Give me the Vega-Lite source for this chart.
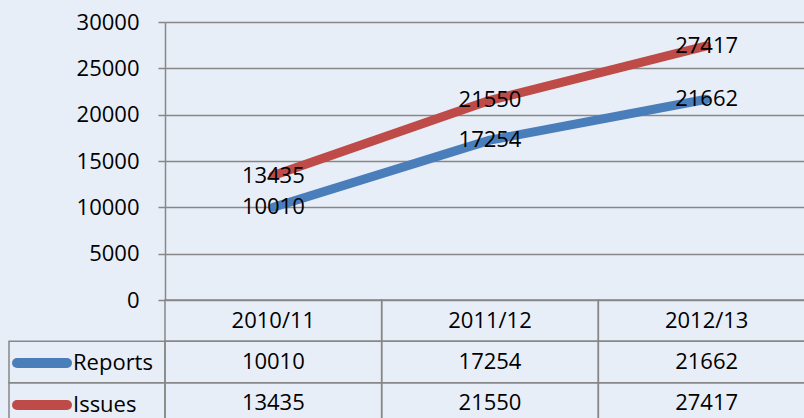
{
  "$schema": "https://vega.github.io/schema/vega-lite/v6.json",
  "background": "#e8eef7",
  "padding": {"left": 8, "top": 11, "right": 0, "bottom": 0},
  "config": {
    "view": {"stroke": null},
    "font": "Open Sans",
    "text": {"font": "Open Sans"}
  },
  "data": {
    "values": [
      {"period": "2010/11", "series": "Reports", "value": 10010},
      {"period": "2011/12", "series": "Reports", "value": 17254},
      {"period": "2012/13", "series": "Reports", "value": 21662},
      {"period": "2010/11", "series": "Issues", "value": 13435},
      {"period": "2011/12", "series": "Issues", "value": 21550},
      {"period": "2012/13", "series": "Issues", "value": 27417}
    ]
  },
  "columns": 2,
  "spacing": 0,
  "bounds": "flush",
  "concat": [
    {
      "width": 156,
      "height": 278,
      "data": {"values": []},
      "mark": "point"
    },
    {
      "width": 650,
      "height": 278,
      "layer": [
        {
          "mark": {"type": "line", "strokeWidth": 9, "strokeCap": "round", "strokeJoin": "round"},
          "encoding": {
            "x": {"field": "period", "type": "nominal", "axis": null, "scale": {"padding": 0.5}},
            "y": {
              "field": "value",
              "type": "quantitative",
              "scale": {"domain": [0, 30000], "nice": false},
              "axis": {
                "values": [0, 5000, 10000, 15000, 20000, 25000, 30000],
                "format": "d",
                "title": null,
                "grid": true,
                "gridColor": "#878787",
                "gridWidth": 1.5,
                "domainColor": "#878787",
                "domainWidth": 1.5,
                "tickColor": "#878787",
                "tickWidth": 1.5,
                "tickSize": 7,
                "labelPadding": 19,
                "labelFontSize": 22,
                "labelFont": "Open Sans",
                "labelColor": "#000000"
              }
            },
            "color": {
              "field": "series",
              "type": "nominal",
              "scale": {"domain": ["Reports", "Issues"], "range": ["#4a7ebb", "#be4b48"]},
              "legend": {
                "orient": "none",
                "legendX": 3,
                "legendY": 320.3,
                "title": null,
                "symbolType": "stroke",
                "symbolSize": 2500,
                "symbolStrokeWidth": 10,
                "clipHeight": 41.33,
                "rowPadding": 0,
                "padding": 0,
                "labelFontSize": 22,
                "labelFont": "Open Sans",
                "labelColor": "#000000",
                "labelOffset": 1,
                "encode": {"symbols": {"update": {"strokeCap": {"value": "round"}}}}
              }
            }
          }
        },
        {
          "mark": {"type": "text", "fontSize": 22, "color": "#000000", "font": "Open Sans"},
          "encoding": {
            "x": {"field": "period", "type": "nominal"},
            "y": {"field": "value", "type": "quantitative"},
            "text": {"field": "value", "type": "quantitative", "format": "d"}
          }
        }
      ]
    },
    {
      "width": 156,
      "height": 124,
      "transform": [{"filter": "datum.period == '2010/11'"}],
      "mark": {"type": "rect", "fill": "transparent", "stroke": "#878787", "strokeWidth": 1.5},
      "encoding": {
        "y": {
          "field": "series",
          "type": "nominal",
          "axis": null,
          "scale": {"domain": ["header", "Reports", "Issues"], "paddingInner": 0, "paddingOuter": 0}
        }
      }
    },
    {
      "width": 650,
      "height": 124,
      "layer": [
        {
          "mark": {"type": "rect", "fill": "transparent", "stroke": "#878787", "strokeWidth": 1.5},
          "encoding": {
            "x": {"field": "period", "type": "nominal", "axis": null, "scale": {"paddingInner": 0, "paddingOuter": 0}},
            "y": {
              "field": "series",
              "type": "nominal",
              "axis": null,
              "scale": {"domain": ["header", "Reports", "Issues"], "paddingInner": 0, "paddingOuter": 0}
            }
          }
        },
        {
          "transform": [{"filter": "datum.series == 'Reports'"}],
          "mark": {"type": "rect", "fill": "transparent", "stroke": "#878787", "strokeWidth": 1.5},
          "encoding": {
            "x": {"field": "period", "type": "nominal"},
            "y": {"datum": "header", "type": "nominal"}
          }
        },
        {
          "mark": {"type": "text", "fontSize": 22, "color": "#000000", "font": "Open Sans"},
          "encoding": {
            "x": {"field": "period", "type": "nominal"},
            "y": {"field": "series", "type": "nominal"},
            "text": {"field": "value", "type": "quantitative", "format": "d"}
          }
        },
        {
          "transform": [{"filter": "datum.series == 'Reports'"}],
          "mark": {"type": "text", "fontSize": 22, "color": "#000000", "font": "Open Sans"},
          "encoding": {
            "x": {"field": "period", "type": "nominal"},
            "y": {"datum": "header", "type": "nominal"},
            "text": {"field": "period", "type": "nominal"}
          }
        }
      ]
    }
  ]
}
